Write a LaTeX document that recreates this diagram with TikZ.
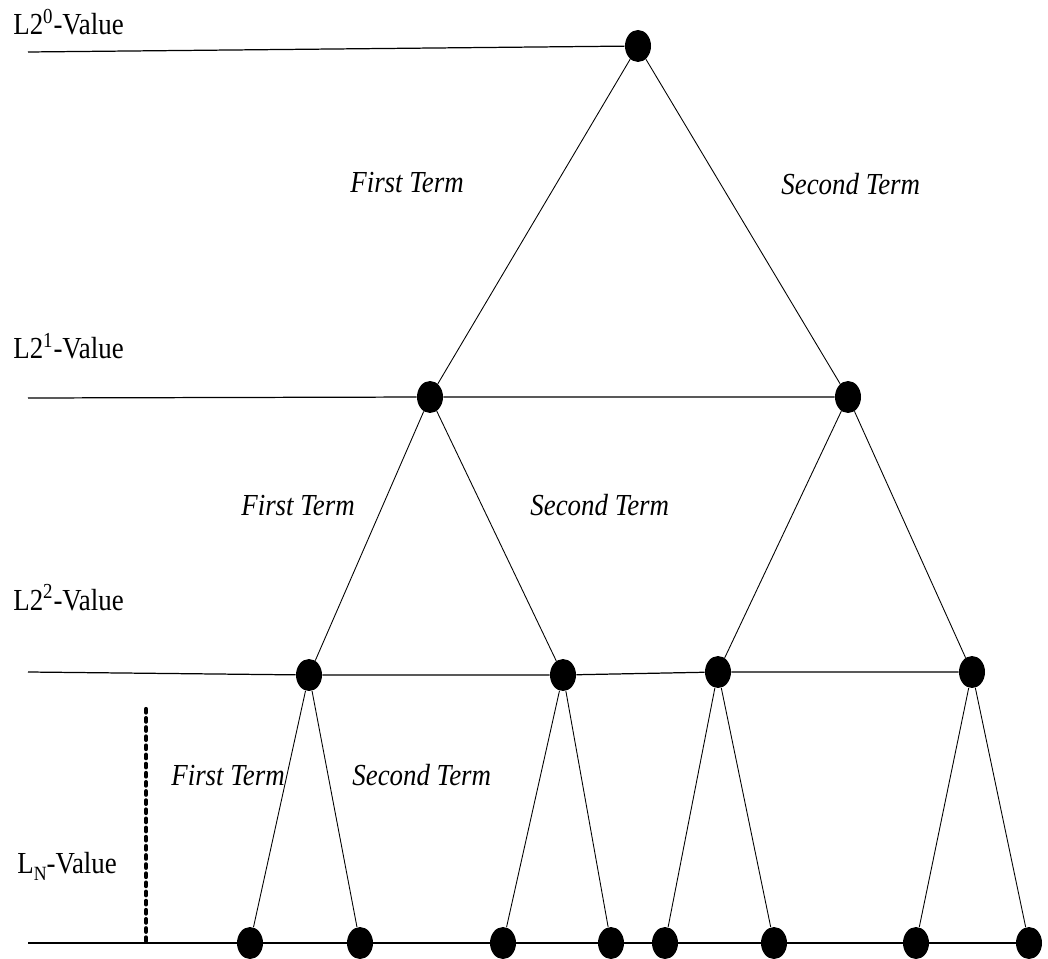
\documentclass[tikz,border=0pt]{standalone}
\usepackage{fontspec}
\setmainfont{Liberation Serif}[FakeStretch=0.88]
\usetikzlibrary{shapes.geometric}

\tikzset{
  blob/.style={ellipse, fill=black, minimum width=0.52cm, minimum height=0.64cm, inner sep=0pt},
  link/.style={line width=0.5pt},
  rail/.style={line width=0.7pt},
  lvl/.style={anchor=base west, inner sep=0pt},
  term/.style={anchor=base west, inner sep=0pt, font=\fontsize{17.4}{20}\selectfont\itshape}
}

\begin{document}
\begin{tikzpicture}[x=0.02cm, y=-0.02cm, font=\fontsize{17.4}{20}\selectfont]
\useasboundingbox (0,0) rectangle (1048,959);

% tree nodes
\node[blob] (r) at (638,46) {};
\node[blob] (a) at (430,397) {};
\node[blob] (b) at (848,397) {};
\node[blob] (aa) at (309,675) {};
\node[blob] (ab) at (563,675) {};
\node[blob] (ba) at (718,672) {};
\node[blob] (bb) at (972,672) {};
\node[blob] (aa1) at (250,943) {};
\node[blob] (aa2) at (360,943) {};
\node[blob] (ab1) at (503,943) {};
\node[blob] (ab2) at (611,943) {};
\node[blob] (ba1) at (665,943) {};
\node[blob] (ba2) at (774,943) {};
\node[blob] (bb1) at (916,943) {};
\node[blob] (bb2) at (1029,943) {};

% level rails
\coordinate (s0) at (28,52);
\coordinate (s1) at (28,398);
\coordinate (s2) at (28,672);
\coordinate (s3) at (28,943);
\draw[rail] (s0) -- (r);
\draw[rail] (s1) -- (a) -- (b);
\draw[rail] (s2) -- (aa) -- (ab) -- (ba) -- (bb);
\draw[rail] (s3) -- (aa1) -- (aa2) -- (ab1) -- (ab2) -- (ba1) -- (ba2) -- (bb1) -- (bb2);

% branches
\draw[link] (a) -- (r) -- (b);
\draw[link] (aa) -- (a) -- (ab);
\draw[link] (ba) -- (b) -- (bb);
\draw[link] (aa1) -- (aa) -- (aa2);
\draw[link] (ab1) -- (ab) -- (ab2);
\draw[link] (ba1) -- (ba) -- (ba2);
\draw[link] (bb1) -- (bb) -- (bb2);

% dots for the skipped levels
\coordinate (d0) at (146,709);
\coordinate (d1) at (146,941);
\draw[line width=2.4pt, line cap=round, dash pattern=on 2pt off 3.2pt] (d0) -- (d1);

% level names
\node[lvl] (v0) at (13,35) {L2\textsuperscript{0}-Value};
\node[lvl] (v1) at (13,359) {L2\textsuperscript{1}-Value};
\node[lvl] (v2) at (13,610) {L2\textsuperscript{2}-Value};
\node[lvl] (vn) at (17,873) {L\raisebox{-0.5ex}{\fontsize{11.5}{12}\selectfont N}-Value};

% term labels
\node[term] (f0) at (350,193) {First Term};
\node[term] (t0) at (781,195) {Second Term};
\node[term] (f1) at (241,515) {First Term};
\node[term] (t1) at (530,515) {Second Term};
\node[term] (f2) at (171,785) {First Term};
\node[term] (t2) at (352,785) {Second Term};
\end{tikzpicture}
\end{document}
